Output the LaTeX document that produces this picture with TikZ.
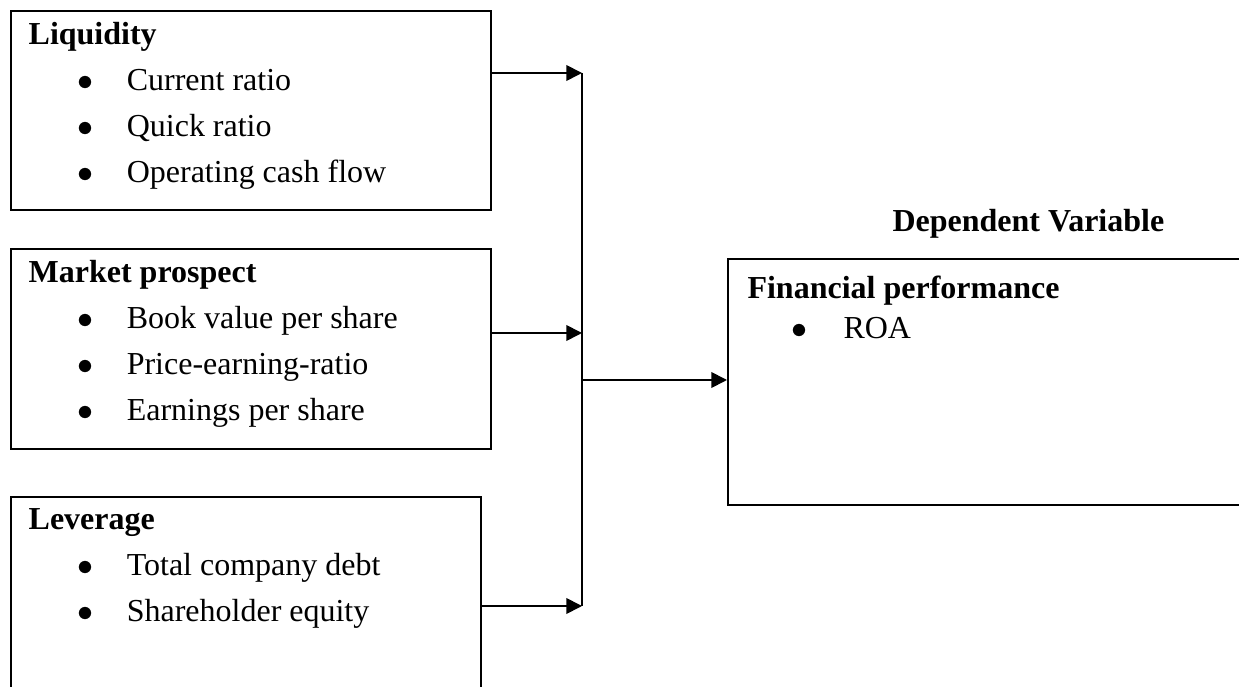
\documentclass[tikz,border=0pt]{standalone}
\usepackage{fontspec}
\setmainfont{Liberation Serif}
\usetikzlibrary{positioning,arrows.meta}

\newcommand{\bitem}[1]{\hspace*{18.4pt}\makebox[18.4pt][l]{$\bullet$}#1}

\begin{document}
\begin{tikzpicture}[x=0.375pt, y=-0.375pt,
  box/.style={draw, line width=0.65pt, anchor=north west, inner sep=0pt},
  lbl/.style={anchor=north west, inner sep=0pt, align=left,
    font=\fontsize{12}{17.25}\selectfont},
  arr/.style={-{Triangle[length=5.9pt, width=5.9pt]}, line width=0.65pt}
]
\clip (0,0) rectangle (1239,687);

% independent variables
\node[box, minimum width=180pt, minimum height=74.6pt] (liq) at (10,10) {};
\node[lbl, below right=4.5pt and 6.8pt of liq.north west] (liqtxt) {
  \textbf{Liquidity}\\
  \bitem{Current ratio}\\
  \bitem{Quick ratio}\\
  \bitem{Operating cash flow}
};
\node[box, minimum width=180pt, minimum height=75pt] (mkt) at (10,248) {};
\node[lbl, below right=4.5pt and 6.8pt of mkt.north west] (mkttxt) {
  \textbf{Market prospect}\\
  \bitem{Book value per share}\\
  \bitem{Price-earning-ratio}\\
  \bitem{Earnings per share}
};
\node[box, minimum width=176.25pt, minimum height=84pt] (lev) at (10,496) {};
\node[lbl, below right=4.5pt and 6.8pt of lev.north west] (levtxt) {
  \textbf{Leverage}\\
  \bitem{Total company debt}\\
  \bitem{Shareholder equity}
};

% dependent variable
\node[lbl, anchor=base west, font=\bfseries\fontsize{12}{15}\selectfont]
  (dep) at (892,232) {Dependent Variable};
\node[box, minimum width=200pt, minimum height=92.25pt] (fin) at (727,258) {};
\node[lbl, below right=6.5pt and 7.5pt of fin.north west,
  font=\fontsize{12}{15}\selectfont] (fintxt) {
  \textbf{Financial performance}\\
  \hspace*{16.5pt}\makebox[19.5pt][l]{$\bullet$}ROA
};

% connectors
\coordinate (j1) at (582,73);
\coordinate (j2) at (582,333);
\coordinate (j3) at (582,606);
\coordinate (jm) at (582,380);
\draw[arr] (j1 -| liq.east) -- (j1);
\draw[arr] (j2 -| mkt.east) -- (j2);
\draw[arr] (j3 -| lev.east) -- (j3);
\draw[line width=0.65pt] (j1) -- (j3);
\draw[arr] (jm) -- (jm -| fin.west);
\end{tikzpicture}
\end{document}
